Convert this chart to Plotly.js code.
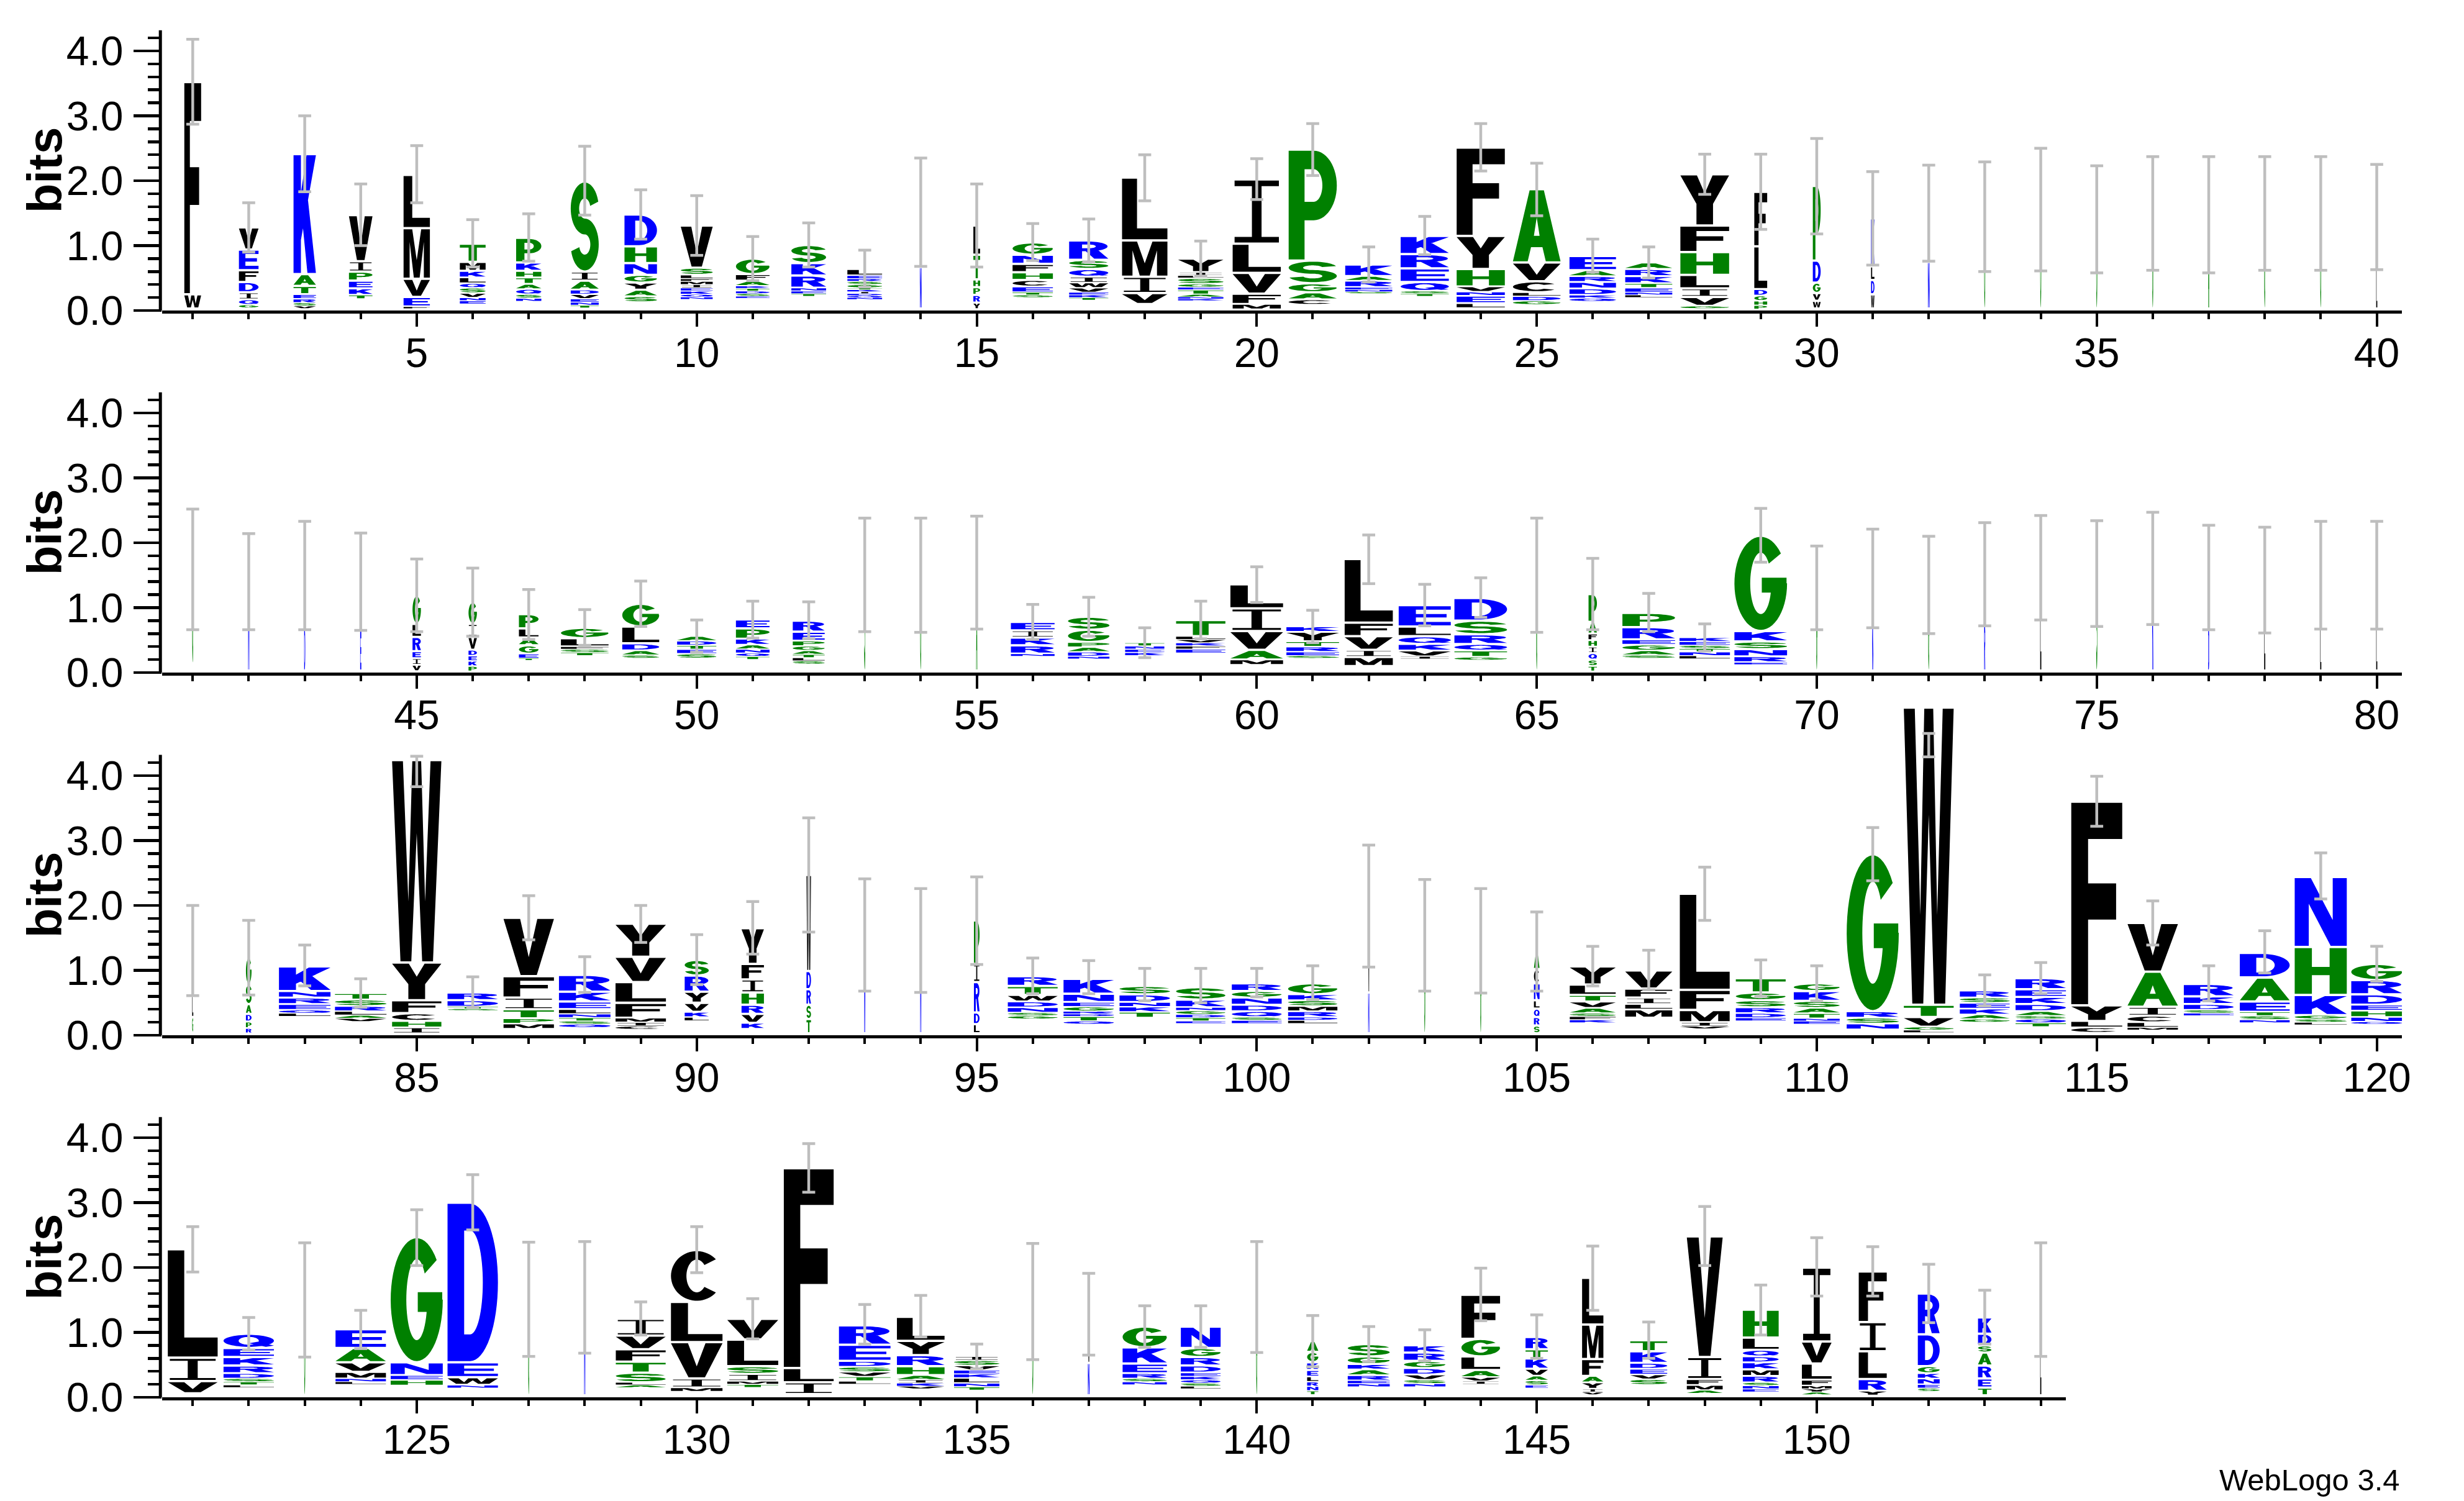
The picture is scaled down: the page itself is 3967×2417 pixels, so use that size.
<!DOCTYPE html>
<html><head><meta charset="utf-8">
<script src="https://cdn.plot.ly/plotly-3.0.1.min.js"></script>
<style>html,body{margin:0;padding:0;background:#fff}</style>
</head><body>
<div id="chart" style="width:3967px;height:2417px"></div>
<script>
// ---------------- DATA ----------------
// one string per position (1..154): letters bottom -> top, "letter:bits"; "_" = unresolved tiny residue (not drawn)
const stacks = [
"_:0.03 W:0.22 F:3.27",
"_:0.04 G:0.05 Q:0.08 I:0.11 D:0.16 F:0.18 E:0.32 V:0.34",
"_:0.03 V:0.04 S:0.05 R:0.06 E:0.07 T:0.13 A:0.18 K:1.85",
"_:0.18 T:0.06 K:0.10 E:0.12 P:0.14 I:0.16 V:0.71",
"_:0.03 F:0.03 E:0.15 V:0.28 M:0.78 L:0.82",
"_:0.10 E:0.05 N:0.05 V:0.07 S:0.08 Q:0.07 L:0.09 K:0.10 M:0.14 T:0.28",
"_:0.14 N:0.05 S:0.06 Q:0.08 A:0.08 T:0.10 H:0.10 K:0.13 P:0.38",
"_:0.04 T:0.04 N:0.05 E:0.05 V:0.07 D:0.07 A:0.14 I:0.14 S:1.39",
"_:0.13 S:0.09 A:0.10 Y:0.11 G:0.12 N:0.18 H:0.26 D:0.49",
"_:0.17 N:0.04 Q:0.04 K:0.05 E:0.05 I:0.05 M:0.05 F:0.04 L:0.06 S:0.11 V:0.65",
"_:0.19 E:0.03 S:0.04 D:0.04 T:0.04 K:0.04 A:0.08 F:0.10 G:0.24",
"_:0.22 T:0.04 E:0.04 N:0.05 R:0.19 K:0.19 S:0.28",
"_:0.17 N:0.03 Q:0.03 D:0.03 I:0.03 K:0.03 T:0.03 G:0.05 S:0.05 R:0.04 E:0.05 L:0.10",
"_:0.03 N:0.64 G:0.85",
"_:0.02 Y:0.10 R:0.12 P:0.12 H:0.12 T:0.38 L:0.45",
"_:0.20 S:0.04 T:0.04 E:0.09 C:0.10 H:0.12 F:0.13 N:0.14 G:0.19",
"_:0.16 T:0.04 K:0.04 E:0.04 V:0.07 W:0.08 I:0.09 Q:0.12 S:0.14 R:0.30",
"_:0.10 V:0.17 I:0.25 M:0.56 L:0.97",
"_:0.15 K:0.03 N:0.03 A:0.04 T:0.07 E:0.04 G:0.05 S:0.09 L:0.04 I:0.05 Y:0.21",
"_:0.02 M:0.08 F:0.16 V:0.32 L:0.45 I:0.99",
"_:0.09 C:0.08 A:0.11 G:0.14 S:0.35 P:1.71",
"_:0.26 S:0.03 N:0.03 E:0.04 R:0.10 A:0.07 K:0.18",
"_:0.22 T:0.04 S:0.04 Q:0.14 E:0.21 R:0.22 K:0.28",
"_:0.04 L:0.07 E:0.12 N:0.06 V:0.08 H:0.27 Y:0.51 F:1.36",
"_:0.09 G:0.06 D:0.07 L:0.06 C:0.17 V:0.29 A:1.13",
"_:0.14 Q:0.05 K:0.05 D:0.10 N:0.10 R:0.09 A:0.09 E:0.22",
"_:0.20 L:0.04 N:0.04 E:0.07 T:0.07 K:0.11 R:0.11 A:0.10",
"_:0.03 G:0.04 V:0.14 I:0.13 L:0.21 H:0.35 F:0.41 Y:0.79",
"_:0.02 P:0.06 H:0.07 G:0.08 D:0.10 L:0.66 F:0.84",
"_:0.03 W:0.12 V:0.12 G:0.16 D:0.34 P:1.15",
"_:0.03 W:0.22 D:0.22 L:0.21 K:0.74",
"_:0.03 N:0.72 R:0.75",
"_:0.03 G:1.42",
"_:0.03 G:1.52",
"_:0.03 G:1.38",
"_:0.03 G:1.47",
"_:0.03 A:1.45",
"_:0.03 G:1.47",
"_:0.03 G:1.47",
"_:0.03 L:0.60 G:0.81",
"_:0.14 G:1.45",
"_:0.03 N:1.37",
"_:0.03 D:0.67 S:0.80",
"_:0.03 E:0.62 G:0.75",
"_:0.02 V:0.10 I:0.10 E:0.11 R:0.22 L:0.20 G:0.44",
"_:0.02 P:0.08 K:0.08 E:0.08 D:0.09 V:0.20 I:0.20 G:0.34",
"_:0.19 T:0.03 E:0.07 G:0.13 A:0.12 L:0.14 P:0.22",
"_:0.26 T:0.05 S:0.05 F:0.04 L:0.13 G:0.16",
"_:0.22 S:0.05 A:0.07 D:0.11 L:0.26 G:0.35",
"_:0.22 S:0.07 E:0.07 T:0.06 D:0.07 A:0.07",
"_:0.20 T:0.05 Q:0.05 N:0.06 A:0.07 K:0.09 P:0.16 E:0.14",
"_:0.13 S:0.05 L:0.05 T:0.05 A:0.06 G:0.07 P:0.08 E:0.14 R:0.17",
"_:0.03 S:1.47",
"_:0.03 G:1.47",
"_:0.03 A:1.51",
"_:0.25 N:0.04 R:0.13 K:0.12 I:0.11 E:0.13",
"_:0.21 N:0.04 D:0.07 A:0.07 P:0.08 G:0.19 S:0.20",
"_:0.26 K:0.05 E:0.05 N:0.05 T:0.05",
"_:0.30 E:0.06 F:0.05 K:0.05 V:0.05 L:0.05 T:0.25",
"_:0.12 M:0.08 A:0.15 V:0.29 I:0.35 L:0.37",
"_:0.22 S:0.04 E:0.06 R:0.08 T:0.08 Y:0.15 K:0.08",
"_:0.10 M:0.14 I:0.11 V:0.21 F:0.21 L:0.98",
"_:0.21 I:0.04 V:0.09 K:0.10 Q:0.12 L:0.15 E:0.33",
"_:0.19 G:0.05 T:0.10 Q:0.10 R:0.15 S:0.21 D:0.35",
"_:0.03 G:1.47",
"_:0.02 T:0.08 S:0.10 Q:0.10 I:0.10 H:0.10 F:0.10 A:0.18 P:0.43",
"_:0.22 S:0.05 A:0.07 G:0.09 E:0.08 R:0.19 P:0.22",
"_:0.21 L:0.05 N:0.06 T:0.05 S:0.05 E:0.06 K:0.06",
"_:0.12 E:0.04 R:0.09 N:0.11 S:0.12 K:0.16 G:1.47",
"_:0.03 G:1.27",
"_:0.03 N:0.67 S:0.75",
"_:0.03 G:1.32",
"_:0.03 R:0.72 G:0.77",
"_:0.03 L:1.58",
"_:0.03 S:1.49",
"_:0.03 K:1.58",
"_:0.03 D:0.67 L:0.77",
"_:0.03 L:1.40",
"_:0.03 L:0.67 G:0.80",
"_:0.03 L:0.72 T:0.75",
"_:0.04 G:0.24 L:0.33 A:0.69",
"_:0.03 R:0.08 P:0.10 D:0.12 A:0.15 S:0.30 G:0.42",
"_:0.29 L:0.05 Q:0.05 E:0.09 R:0.10 N:0.10 K:0.38",
"_:0.21 V:0.05 A:0.05 L:0.06 R:0.08 S:0.10 T:0.10",
"_:0.03 I:0.09 H:0.10 C:0.12 F:0.20 Y:0.58 W:3.12",
"_:0.38 S:0.03 T:0.03 D:0.10 R:0.12",
"_:0.10 M:0.08 P:0.08 T:0.14 I:0.18 F:0.33 V:0.90",
"_:0.12 Q:0.05 S:0.05 T:0.05 N:0.06 L:0.07 E:0.12 K:0.15 R:0.26",
"_:0.09 C:0.05 I:0.06 M:0.07 F:0.23 L:0.32 V:0.39 Y:0.51",
"_:0.22 L:0.06 K:0.08 V:0.14 Y:0.17 R:0.25 S:0.24",
"_:0.10 K:0.09 V:0.14 R:0.14 H:0.19 I:0.20 F:0.24 Y:0.55",
"_:0.03 T:0.22 S:0.22 R:0.24 D:0.28 W:1.48",
"_:0.03 N:1.52",
"_:0.03 N:1.43",
"_:0.03 L:0.14 D:0.18 R:0.47 I:0.28 P:0.67",
"_:0.25 G:0.05 S:0.05 N:0.08 D:0.09 W:0.10 T:0.14 R:0.15",
"_:0.17 Q:0.05 T:0.07 D:0.04 R:0.04 G:0.07 E:0.07 N:0.13 K:0.23",
"_:0.27 T:0.09 K:0.08 N:0.07 D:0.12 S:0.13",
"_:0.18 E:0.04 T:0.05 D:0.05 G:0.06 N:0.05 K:0.12 S:0.19",
"_:0.18 E:0.05 S:0.05 Q:0.09 D:0.10 N:0.11 G:0.10 R:0.12",
"_:0.18 L:0.05 D:0.05 R:0.09 M:0.08 S:0.09 K:0.09 G:0.17",
"_:0.03 N:0.63 W:1.33",
"_:0.03 G:1.51",
"_:0.03 G:1.43",
"_:0.03 S:0.12 R:0.13 Q:0.13 L:0.13 N:0.26 C:0.22 A:0.27",
"_:0.19 K:0.05 F:0.05 S:0.05 A:0.08 V:0.10 T:0.10 L:0.16 Y:0.28",
"_:0.27 M:0.13 L:0.08 I:0.10 F:0.14 V:0.28",
"_:0.10 V:0.04 I:0.06 M:0.19 F:0.31 L:1.48",
"_:0.22 E:0.05 D:0.07 R:0.09 S:0.11 G:0.12 T:0.22",
"_:0.17 E:0.05 N:0.04 T:0.08 A:0.08 S:0.11 K:0.15 G:0.12",
"_:0.09 N:0.09 S:0.09 R:0.10 G:2.42",
"_:0.04 L:0.04 G:0.05 V:0.15 T:0.19 W:4.58",
"_:0.20 G:0.05 A:0.07 K:0.09 E:0.09 S:0.08 R:0.11",
"_:0.13 T:0.06 Q:0.06 S:0.05 A:0.07 D:0.11 K:0.11 E:0.12 R:0.17",
"_:0.04 C:0.08 L:0.10 Y:0.24 F:3.14",
"_:0.08 M:0.04 L:0.08 C:0.10 I:0.14 A:0.54 V:0.75",
"_:0.30 E:0.04 S:0.05 D:0.09 K:0.12 R:0.19",
"_:0.19 N:0.05 S:0.06 T:0.06 E:0.16 A:0.37 D:0.38",
"_:0.16 L:0.04 S:0.05 G:0.06 K:0.31 H:0.74 N:1.08",
"_:0.17 Q:0.04 N:0.07 H:0.10 E:0.09 D:0.16 R:0.22 G:0.25",
"_:0.06 V:0.19 I:0.36 L:1.67",
"_:0.15 L:0.04 T:0.05 S:0.05 D:0.08 R:0.12 K:0.13 E:0.14 Q:0.22",
"_:0.03 G:1.47",
"_:0.20 L:0.04 N:0.05 M:0.10 V:0.15 A:0.22 E:0.29",
"_:0.18 H:0.09 E:0.07 N:0.20 G:1.93",
"_:0.14 N:0.05 W:0.12 E:0.23 D:2.46",
"_:0.03 G:1.48",
"_:0.03 N:1.51",
"_:0.15 A:0.04 L:0.04 S:0.15 T:0.17 F:0.19 V:0.21 I:0.26",
"_:0.09 M:0.06 I:0.14 V:0.56 L:0.62 C:0.80",
"_:0.15 T:0.05 M:0.05 I:0.11 S:0.12 L:0.41 V:0.32",
"_:0.05 I:0.18 L:0.22 F:3.08",
"_:0.20 L:0.05 T:0.07 V:0.07 S:0.08 D:0.09 E:0.25 R:0.30",
"_:0.13 V:0.04 K:0.05 I:0.05 A:0.07 H:0.14 R:0.17 Y:0.22 L:0.37",
"_:0.11 T:0.05 N:0.06 L:0.08 K:0.06 E:0.06 V:0.07 S:0.08 I:0.06",
"_:0.03 G:1.45",
"_:0.03 N:0.50 W:0.75",
"_:0.19 N:0.05 S:0.05 R:0.08 E:0.15 K:0.25 G:0.32",
"_:0.13 L:0.04 S:0.05 Q:0.05 K:0.05 E:0.06 D:0.11 R:0.13 G:0.14 N:0.33",
"_:0.03 G:1.52",
"_:0.04 T:0.06 N:0.07 R:0.07 L:0.08 E:0.10 K:0.12 G:0.16 A:0.17",
"_:0.16 N:0.05 E:0.05 R:0.08 A:0.09 K:0.08 G:0.12 S:0.19",
"_:0.16 N:0.05 S:0.06 V:0.08 D:0.10 G:0.11 R:0.13 K:0.11",
"_:0.20 I:0.05 V:0.06 A:0.11 L:0.21 G:0.27 F:0.68",
"_:0.14 E:0.05 S:0.07 A:0.07 V:0.11 K:0.16 T:0.14 R:0.19",
"_:0.04 V:0.04 I:0.05 Y:0.10 A:0.10 F:0.26 M:0.53 L:0.72",
"_:0.19 S:0.09 V:0.07 E:0.09 D:0.09 K:0.18 T:0.17",
"_:0.06 A:0.05 M:0.08 F:0.09 I:0.34 V:1.86",
"_:0.08 E:0.05 N:0.05 S:0.05 R:0.10 M:0.10 K:0.11 D:0.09 Q:0.10 L:0.19 H:0.43",
"_:0.04 A:0.04 Y:0.05 M:0.05 F:0.09 L:0.25 V:0.34 I:1.14",
"_:0.03 Y:0.07 R:0.18 L:0.43 I:0.45 F:0.78",
"_:0.09 S:0.05 E:0.06 N:0.09 K:0.08 G:0.11 D:0.49 R:0.63",
"_:0.03 T:0.12 E:0.14 R:0.20 A:0.20 S:0.11 D:0.18 K:0.25",
"_:0.03 L:1.47"
];

// visible stack width (fraction of one position) – columns with many gaps are narrow
const widthFrac = [
0.30,0.35,0.40,0.42,0.47,0.46,0.45,0.50,0.58,0.57,
0.60,0.62,0.62,0.03,0.12,0.72,0.70,0.81,0.81,0.86,
0.86,0.84,0.86,0.86,0.85,0.83,0.84,0.87,0.23,0.14,
0.06,0.03,0.02,0.02,0.02,0.02,0.02,0.02,0.02,0.02,
0.02,0.02,0.02,0.02,0.15,0.15,0.35,0.85,0.66,0.70,
0.60,0.57,0.02,0.02,0.02,0.78,0.74,0.70,0.88,0.94,
0.94,0.86,0.93,0.94,0.02,0.15,0.94,0.90,0.94,0.02,
0.02,0.02,0.02,0.02,0.02,0.02,0.02,0.02,0.02,0.02,
0.02,0.10,0.92,0.92,0.88,0.90,0.90,0.92,0.90,0.43,
0.40,0.08,0.02,0.02,0.10,0.89,0.90,0.90,0.88,0.89,
0.88,0.02,0.02,0.02,0.10,0.82,0.84,0.89,0.89,0.82,
0.93,0.89,0.89,0.90,0.91,0.90,0.89,0.89,0.93,0.91,
0.89,0.90,0.02,0.90,0.93,0.90,0.02,0.02,0.89,0.92,
0.91,0.89,0.92,0.85,0.81,0.02,0.03,0.79,0.71,0.02,
0.20,0.75,0.74,0.69,0.40,0.38,0.66,0.64,0.64,0.53,
0.50,0.39,0.24,0.02];

const errLow = [
2.87,0.90,1.83,1.00,1.66,0.67,0.76,1.47,1.10,0.85,
0.46,0.67,0.36,0.68,0.67,0.77,0.75,1.69,0.53,1.71,
2.08,0.44,0.86,2.15,1.46,0.59,0.50,1.79,1.25,1.18,
0.70,0.76,0.60,0.61,0.58,0.62,0.58,0.62,0.62,0.63,
0.66,0.66,0.66,0.65,0.63,0.56,0.51,0.42,0.71,0.31,
0.53,0.52,0.63,0.62,0.67,0.51,0.56,0.23,0.52,1.08,
0.46,1.37,0.72,0.85,0.62,0.66,0.63,0.33,1.70,0.66,
0.69,0.60,0.72,0.81,0.71,0.74,0.66,0.61,0.67,0.67,
0.61,0.62,0.76,0.43,3.83,0.43,1.47,0.66,1.43,0.78,
1.25,1.59,0.68,0.66,1.09,0.64,0.64,0.53,0.50,0.59,
0.55,1.05,0.68,0.65,0.68,0.76,0.70,1.77,0.60,0.53,
2.38,4.29,0.45,0.64,3.22,1.39,0.53,0.96,2.10,0.83,
1.93,0.73,0.62,0.75,2.03,2.58,0.63,0.68,0.96,1.92,
0.90,3.16,0.82,0.93,0.44,0.58,0.65,0.77,0.77,0.69,
0.47,0.55,0.56,1.18,0.60,1.34,0.60,2.03,0.96,1.56,
1.56,1.15,0.82,0.63];
const errHigh = [
4.18,1.66,3.00,1.95,2.54,1.40,1.49,2.53,1.86,1.77,
1.14,1.35,0.93,2.35,1.95,1.34,1.41,2.40,1.07,2.34,
2.88,0.98,1.45,2.88,2.27,1.10,0.98,2.41,2.41,2.65,
2.14,2.24,2.29,2.50,2.23,2.37,2.37,2.37,2.37,2.25,
2.52,2.14,2.33,2.15,1.75,1.61,1.28,0.97,1.41,0.81,
1.10,1.09,2.38,2.38,2.41,1.05,1.16,0.69,1.10,1.63,
0.96,2.12,1.36,1.46,2.38,1.76,1.22,0.75,2.53,1.95,
2.21,2.10,2.31,2.42,2.34,2.47,2.27,2.24,2.33,2.33,
2.00,1.77,1.39,0.87,4.30,0.90,2.15,1.21,2.00,1.55,
2.06,3.35,2.41,2.26,2.44,1.19,1.15,1.03,1.03,1.03,
1.07,2.93,2.40,2.26,1.90,1.37,1.31,2.59,1.16,1.07,
3.20,4.65,0.93,1.12,3.99,2.07,1.07,1.61,2.81,1.37,
2.63,1.23,2.38,1.34,2.89,3.43,2.39,2.40,1.47,2.63,
1.52,3.91,1.43,1.57,0.82,2.37,1.91,1.41,1.41,2.40,
1.26,1.09,1.04,1.99,1.27,2.33,1.16,2.94,1.73,2.46,
2.32,2.05,1.65,2.38];

const rowStart = [1, 41, 81, 121];
const rowLength = [40, 40, 40, 34];
const yTickVals = [0, 1, 2, 3, 4];
const yTickText = ['0.0', '1.0', '2.0', '3.0', '4.0'];
const yMinorVals = [0.2,0.4,0.6,0.8,1.2,1.4,1.6,1.8,2.2,2.4,2.6,2.8,3.2,3.4,3.6,3.8,4.2];
const colourGroups = {black: 'WFLMVIYC', green: 'AGHPST', blue: 'DEKNQR'};
const colourValue = {black: '#000000', green: '#008000', blue: '#0000ff'};

// ---------------- GLYPH OUTLINES (unit box) ----------------
const SW = 0.33, BH = 0.18, CT = 0.30, CV = 0.17;
function area(c){let a=0;for(let i=0;i<c.length;i++){const p=c[i],q=c[(i+1)%c.length];a+=p[0]*q[1]-q[0]*p[1];}return a/2;}
function O(c){return area(c)<0?c.slice().reverse():c;}
function Hl(c){return area(c)>0?c.slice().reverse():c;}
function Rc(x0,y0,x1,y1){return O([[x0,y0],[x1,y0],[x1,y1],[x0,y1]]);}
function arc(cx,cy,rx,ry,a0,a1,n){const p=[];for(let i=0;i<=n;i++){const a=(a0+(a1-a0)*i/n)*Math.PI/180;p.push([cx+rx*Math.cos(a),cy+ry*Math.sin(a)]);}return p;}
function band(cx,cy,rx,ry,tx,ty,a0,a1,n){return O(arc(cx,cy,rx,ry,a0,a1,n).concat(arc(cx,cy,rx-tx,ry-ty,a1,a0,n)));}
const qTail = O([[0.50,0.30],[0.68,0.42],[1.0,0.10],[0.84,0.0]]);
const GLYPHS = {
 A:[O([[0,0],[0.31,0],[0.38,0.2],[0.62,0.2],[0.69,0],[1,0],[0.65,1],[0.35,1]]), Hl([[0.44,0.36],[0.56,0.36],[0.5,0.62]])],
 C:[band(0.5,0.5,0.5,0.5,CT,CV,42,318,48)],
 D:[O([[0,0]].concat(arc(0.45,0.5,0.55,0.5,-90,90,32),[[0,1]])), Hl([[SW,CV]].concat(arc(0.45,0.5,0.55-CT,0.5-CV,-90,90,32),[[SW,1-CV]]))],
 E:[Rc(0,0,SW,1),Rc(0,0,1,BH),Rc(0,1-BH,1,1),Rc(0,0.5-BH/2,0.92,0.5+BH/2)],
 F:[Rc(0,0,SW,1),Rc(0,1-BH,1,1),Rc(0,0.42,0.88,0.42+BH)],
 G:[band(0.5,0.5,0.5,0.5,CT,CV,40,360,50),Rc(0.52,0.40,0.99,0.56)],
 H:[Rc(0,0,SW,1),Rc(1-SW,0,1,1),Rc(0,0.5-BH/2,1,0.5+BH/2)],
 I:[Rc(0.04,0.91,0.96,1),Rc(0.04,0,0.96,0.09),Rc(0.40,0,0.60,1)],
 K:[Rc(0,0,SW,1),O([[SW,0.28],[1,1],[0.58,1],[SW,0.68]]),O([[0.36,0.5],[0.62,0],[1,0],[0.6,0.7]])],
 L:[Rc(0,0,SW,1),Rc(0,0,1,BH)],
 M:[O([[0,0],[0.23,0],[0.23,0.74],[0.39,0],[0.61,0],[0.77,0.74],[0.77,0],[1,0],[1,1],[0.67,1],[0.5,0.36],[0.33,1],[0,1]])],
 N:[O([[0,0],[0.27,0],[0.27,0.62],[0.69,0],[1,0],[1,1],[0.73,1],[0.73,0.38],[0.31,1],[0,1]])],
 P:[Rc(0,0,SW,1),O([[0,0.36]].concat(arc(0.52,0.68,0.48,0.32,-90,90,28),[[0,1]])),Hl([[SW,0.36+CV]].concat(arc(0.52,0.68,0.48-CT,0.32-CV,-90,90,28),[[SW,1-CV]]))],
 Q:[O(arc(0.5,0.5,0.5,0.5,0,360,60)),Hl(arc(0.5,0.5,0.5-CT,0.5-CV,0,360,60)),qTail,qTail],
 R:[Rc(0,0,SW,1),O([[0,0.44]].concat(arc(0.5,0.72,0.48,0.28,-90,90,28),[[0,1]])),Hl([[SW,0.44+CV]].concat(arc(0.5,0.72,0.48-CT,0.28-CV,-90,90,28),[[SW,1-CV]])),O([[0.40,0.48],[0.64,0],[1,0],[0.75,0.48]])],
 S:[band(0.5,0.705,0.5,0.295,CT,BH,15,270,40), band(0.5,0.295,0.5,0.295,CT,BH,90,-165,40)],
 T:[Rc(0,1-BH,1,1),Rc(0.34,0,0.66,1)],
 V:[O([[0,1],[0.33,1],[0.5,0.32],[0.67,1],[1,1],[0.66,0],[0.34,0]])],
 W:[O([[0,1],[0.22,1],[0.33,0.3],[0.41,1],[0.59,1],[0.67,0.3],[0.78,1],[1,1],[0.83,0],[0.61,0],[0.5,0.64],[0.39,0],[0.17,0]])],
 Y:[O([[0,1],[0.34,1],[0.5,0.63],[0.66,1],[1,1],[0.67,0.42],[0.67,0],[0.33,0],[0.33,0.42]])]
};

// ---------------- BUILD TRACES ----------------
const W = 3967, H = 2417;
const PX_PER_BIT = 104.5, PITCH = 90.16, X_LEFT = 260.7;
const zeroPx = [500, 1083, 1667, 2250];
const yTop = [4.32, 4.32, 5.12, 4.32];
const AXIS_TOP = 4.32;

const colourOf = {};
for (const g in colourGroups) for (const ch of colourGroups[g]) colourOf[ch] = g;

const traces = [];
const layout = {
  width: W, height: H, margin: {l:0, r:0, t:0, b:0},
  paper_bgcolor: '#ffffff', plot_bgcolor: 'rgba(0,0,0,0)', showlegend: false,
  annotations: [], shapes: []
};
const tickFont = {family: 'Liberation Sans, Arial, sans-serif', size: 66, color: '#000'};

for (let r = 0; r < 4; r++) {
  const ax = r === 0 ? '' : String(r + 1);
  const p0 = rowStart[r], n = rowLength[r];
  const xr = [p0 - 0.55, p0 - 0.55 + n];
  const xd = [X_LEFT / W, (X_LEFT + n * PITCH) / W];
  const yd = [(H - zeroPx[r]) / H, (H - (zeroPx[r] - yTop[r] * PX_PER_BIT)) / H];
  layout['xaxis' + ax] = {
    domain: xd, range: xr, anchor: 'y' + ax, showgrid: false, zeroline: false,
    showline: true, linecolor: '#000', linewidth: 5,
    ticks: 'outside', tickmode: 'linear', tick0: 0, dtick: 5, ticklen: 21, tickwidth: 4, tickcolor: '#000',
    minor: {ticks: 'outside', tickmode: 'linear', tick0: 0, dtick: 1, ticklen: 9, tickwidth: 4, tickcolor: '#000'},
    tickfont: tickFont, ticklabelstandoff: -14, fixedrange: true
  };
  layout['yaxis' + ax] = {
    domain: yd, range: [0, yTop[r]], anchor: 'x' + ax, showgrid: false, zeroline: false,
    showline: false,
    ticks: 'outside', tickmode: 'array', tickvals: yTickVals, ticktext: yTickText,
    ticklen: 45, tickwidth: 4.5, tickcolor: '#000',
    minor: {ticks: 'outside', tickmode: 'array', tickvals: yMinorVals, ticklen: 22, tickwidth: 4.5, tickcolor: '#000'},
    tickfont: tickFont, ticklabelstandoff: 3, fixedrange: true
  };
  // y axis spine from 0 to the information maximum (log2 20)
  layout.shapes.push({type: 'line', xref: 'paper', yref: 'y' + ax,
    x0: (X_LEFT - 2.5) / W, x1: (X_LEFT - 2.5) / W, y0: -0.02, y1: AXIS_TOP,
    line: {color: '#000', width: 5}, layer: 'above'});
  layout.annotations.push({xref: 'paper', yref: 'y' + ax, x: 72 / W, y: AXIS_TOP / 2,
    text: 'bits', showarrow: false, textangle: -90, xanchor: 'center', yanchor: 'middle',
    font: {family: 'Liberation Sans, Arial, sans-serif', size: 78, color: '#000', weight: 'bold'}});

  // letters
  const polys = {black: {x: [], y: []}, green: {x: [], y: []}, blue: {x: [], y: []}};
  const ex = [], ey = [];
  for (let pos = p0; pos < p0 + n; pos++) {
    const i = pos - 1;
    const wf = widthFrac[i];
    const x0 = pos - wf / 2;
    let base = 0;
    for (const tok of stacks[i].split(' ')) {
      const [ch, hs] = tok.split(':');
      const h = parseFloat(hs);
      if (ch !== '_' && GLYPHS[ch]) {
        const inset = Math.min(0.018, h * 0.15);
        const yb = base + inset, yh = h - 2 * inset;
        const tgt = polys[colourOf[ch]];
        for (const contour of GLYPHS[ch]) {
          for (const pt of contour) { tgt.x.push(x0 + pt[0] * wf); tgt.y.push(yb + pt[1] * yh); }
          tgt.x.push(null); tgt.y.push(null);
        }
      }
      base += h;
    }
    // error bar with caps
    const lo = errLow[i], hi = errHigh[i], c = 0.115;
    ex.push(pos, pos, null, pos - c, pos + c, null, pos - c, pos + c, null);
    ey.push(lo, hi, null, lo, lo, null, hi, hi, null);
  }
  for (const g of ['green', 'blue', 'black']) {
    traces.push({type: 'scatter', mode: 'lines', x: polys[g].x, y: polys[g].y,
      xaxis: 'x' + ax, yaxis: 'y' + ax, fill: 'toself', fillcolor: colourValue[g],
      line: {width: 0, color: colourValue[g], simplify: false}, hoverinfo: 'skip', connectgaps: false});
  }
  traces.push({type: 'scatter', mode: 'lines', x: ex, y: ey, xaxis: 'x' + ax, yaxis: 'y' + ax,
    line: {color: '#bebebe', width: 4.5, simplify: false}, hoverinfo: 'skip', connectgaps: false});
}

layout.annotations.push({xref: 'paper', yref: 'paper', x: 3866 / W, y: (H - 2383) / H,
  text: 'WebLogo 3.4', showarrow: false, xanchor: 'right', yanchor: 'middle',
  font: {family: 'Liberation Sans, Arial, sans-serif', size: 49, color: '#000'}});

Plotly.newPlot('chart', traces, layout, {staticPlot: true, displayModeBar: false});
</script>
</body></html>
